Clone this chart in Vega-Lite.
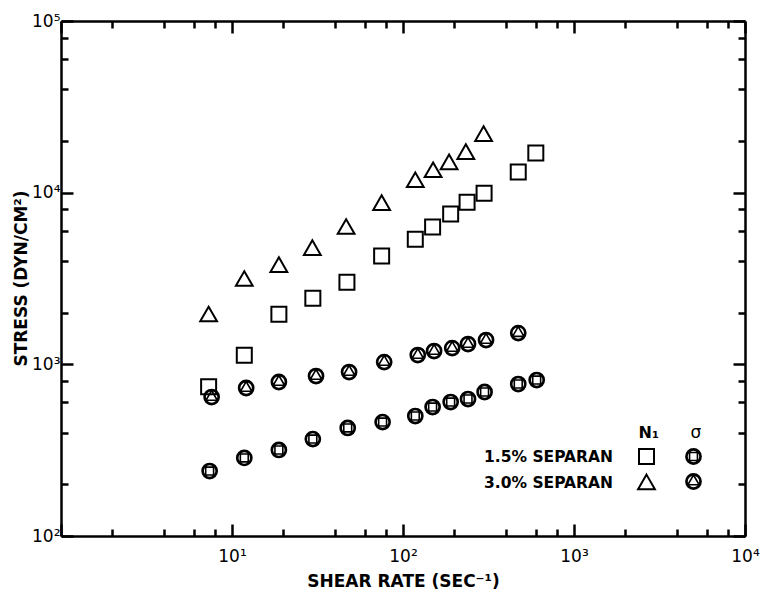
{
  "$schema": "https://vega.github.io/schema/vega-lite/v6.json",
  "width": 684,
  "height": 515,
  "autosize": {"type": "none"},
  "padding": {"left": 61, "top": 21, "right": 20, "bottom": 61},
  "background": "white",
  "config": {"view": {"stroke": null}, "font": "DejaVu Sans"},
  "data": {
    "values": [
      {"rate": 7.3, "stress": 741, "solution": "1.5% SEPARAN", "quantity": "N1"},
      {"rate": 11.8, "stress": 1130, "solution": "1.5% SEPARAN", "quantity": "N1"},
      {"rate": 18.8, "stress": 1960, "solution": "1.5% SEPARAN", "quantity": "N1"},
      {"rate": 29.7, "stress": 2430, "solution": "1.5% SEPARAN", "quantity": "N1"},
      {"rate": 47, "stress": 3010, "solution": "1.5% SEPARAN", "quantity": "N1"},
      {"rate": 75, "stress": 4270, "solution": "1.5% SEPARAN", "quantity": "N1"},
      {"rate": 118, "stress": 5360, "solution": "1.5% SEPARAN", "quantity": "N1"},
      {"rate": 149, "stress": 6300, "solution": "1.5% SEPARAN", "quantity": "N1"},
      {"rate": 190, "stress": 7500, "solution": "1.5% SEPARAN", "quantity": "N1"},
      {"rate": 237, "stress": 8800, "solution": "1.5% SEPARAN", "quantity": "N1"},
      {"rate": 298, "stress": 9930, "solution": "1.5% SEPARAN", "quantity": "N1"},
      {"rate": 472, "stress": 13200, "solution": "1.5% SEPARAN", "quantity": "N1"},
      {"rate": 598, "stress": 17000, "solution": "1.5% SEPARAN", "quantity": "N1"},

      {"rate": 7.3, "stress": 1950, "solution": "3.0% SEPARAN", "quantity": "N1"},
      {"rate": 11.8, "stress": 3140, "solution": "3.0% SEPARAN", "quantity": "N1"},
      {"rate": 18.8, "stress": 3780, "solution": "3.0% SEPARAN", "quantity": "N1"},
      {"rate": 29.5, "stress": 4750, "solution": "3.0% SEPARAN", "quantity": "N1"},
      {"rate": 46.5, "stress": 6300, "solution": "3.0% SEPARAN", "quantity": "N1"},
      {"rate": 75, "stress": 8690, "solution": "3.0% SEPARAN", "quantity": "N1"},
      {"rate": 118, "stress": 11800, "solution": "3.0% SEPARAN", "quantity": "N1"},
      {"rate": 150, "stress": 13500, "solution": "3.0% SEPARAN", "quantity": "N1"},
      {"rate": 186, "stress": 15000, "solution": "3.0% SEPARAN", "quantity": "N1"},
      {"rate": 233, "stress": 17200, "solution": "3.0% SEPARAN", "quantity": "N1"},
      {"rate": 296, "stress": 21900, "solution": "3.0% SEPARAN", "quantity": "N1"},

      {"rate": 7.4, "stress": 239, "solution": "1.5% SEPARAN", "quantity": "sigma"},
      {"rate": 11.8, "stress": 285, "solution": "1.5% SEPARAN", "quantity": "sigma"},
      {"rate": 18.8, "stress": 317, "solution": "1.5% SEPARAN", "quantity": "sigma"},
      {"rate": 29.7, "stress": 367, "solution": "1.5% SEPARAN", "quantity": "sigma"},
      {"rate": 47.5, "stress": 426, "solution": "1.5% SEPARAN", "quantity": "sigma"},
      {"rate": 76, "stress": 461, "solution": "1.5% SEPARAN", "quantity": "sigma"},
      {"rate": 118, "stress": 500, "solution": "1.5% SEPARAN", "quantity": "sigma"},
      {"rate": 149, "stress": 564, "solution": "1.5% SEPARAN", "quantity": "sigma"},
      {"rate": 190, "stress": 603, "solution": "1.5% SEPARAN", "quantity": "sigma"},
      {"rate": 240, "stress": 628, "solution": "1.5% SEPARAN", "quantity": "sigma"},
      {"rate": 300, "stress": 690, "solution": "1.5% SEPARAN", "quantity": "sigma"},
      {"rate": 472, "stress": 768, "solution": "1.5% SEPARAN", "quantity": "sigma"},
      {"rate": 605, "stress": 810, "solution": "1.5% SEPARAN", "quantity": "sigma"},

      {"rate": 7.6, "stress": 645, "solution": "3.0% SEPARAN", "quantity": "sigma"},
      {"rate": 12.1, "stress": 728, "solution": "3.0% SEPARAN", "quantity": "sigma"},
      {"rate": 18.8, "stress": 789, "solution": "3.0% SEPARAN", "quantity": "sigma"},
      {"rate": 31, "stress": 855, "solution": "3.0% SEPARAN", "quantity": "sigma"},
      {"rate": 48.4, "stress": 902, "solution": "3.0% SEPARAN", "quantity": "sigma"},
      {"rate": 77.6, "stress": 1031, "solution": "3.0% SEPARAN", "quantity": "sigma"},
      {"rate": 122, "stress": 1133, "solution": "3.0% SEPARAN", "quantity": "sigma"},
      {"rate": 152, "stress": 1195, "solution": "3.0% SEPARAN", "quantity": "sigma"},
      {"rate": 194, "stress": 1244, "solution": "3.0% SEPARAN", "quantity": "sigma"},
      {"rate": 240, "stress": 1313, "solution": "3.0% SEPARAN", "quantity": "sigma"},
      {"rate": 306, "stress": 1385, "solution": "3.0% SEPARAN", "quantity": "sigma"},
      {"rate": 472, "stress": 1521, "solution": "3.0% SEPARAN", "quantity": "sigma"}
    ]
  },
  "layer": [
    {
      "transform": [{"filter": "datum.quantity === 'N1'"}],
      "mark": {"type": "point", "filled": false, "stroke": "black", "strokeWidth": 2, "size": 225, "opacity": 1},
      "encoding": {
        "x": {
          "field": "rate", "type": "quantitative",
          "scale": {"type": "log", "domain": [1, 10000], "nice": false},
          "axis": {
            "orient": "bottom",
            "values": [1, 2, 4, 6, 8, 10, 20, 40, 60, 80, 100, 200, 400, 600, 800, 1000, 2000, 4000, 6000, 8000, 10000],
            "labelExpr": "datum.value == 10 ? '10¹' : datum.value == 100 ? '10²' : datum.value == 1000 ? '10³' : datum.value == 10000 ? '10⁴' : ''",
            "tickSize": {"condition": {"test": "indexof([1,10,100,1000,10000], datum.value) >= 0", "value": -12}, "value": -7},
            "tickWidth": 2.5, "tickColor": "black",
            "domainColor": "black", "domainWidth": 2.5, "grid": false,
            "labelFont": "DejaVu Sans", "labelFontSize": 17, "labelColor": "black",
            "labelPadding": 24, "labelFlush": false, "labelOverlap": false,
            "title": "SHEAR RATE (SEC⁻¹)", "titleFont": "DejaVu Sans", "titleFontSize": 17,
            "titleFontWeight": "bold", "titleColor": "black",
            "titleX": 342, "titleY": 45, "titleBaseline": "middle", "titleAlign": "center"
          }
        },
        "y": {
          "field": "stress", "type": "quantitative",
          "scale": {"type": "log", "domain": [100, 100000], "nice": false},
          "axis": {
            "orient": "left",
            "values": [100, 200, 400, 600, 800, 1000, 2000, 4000, 6000, 8000, 10000, 20000, 40000, 60000, 80000, 100000],
            "labelExpr": "datum.value == 100 ? '10²' : datum.value == 1000 ? '10³' : datum.value == 10000 ? '10⁴' : datum.value == 100000 ? '10⁵' : ''",
            "tickSize": {"condition": {"test": "indexof([100,1000,10000,100000], datum.value) >= 0", "value": -12}, "value": -7},
            "tickWidth": 2.5, "tickColor": "black",
            "domainColor": "black", "domainWidth": 2.5, "grid": false,
            "labelFont": "DejaVu Sans", "labelFontSize": 17, "labelColor": "black",
            "labelPadding": 13, "labelFlush": false, "labelOverlap": false,
            "title": "STRESS (DYN/CM²)", "titleFont": "DejaVu Sans", "titleFontSize": 17,
            "titleFontWeight": "bold", "titleColor": "black",
            "titleX": -40, "titleY": 257, "titleAngle": -90, "titleBaseline": "middle", "titleAlign": "center"
          }
        },
        "shape": {
          "field": "solution", "type": "nominal",
          "scale": {
            "domain": ["1.5% SEPARAN", "3.0% SEPARAN"],
            "range": ["M-1,-1H1V1H-1Z", "M0,-1.05L1.12,0.9L-1.12,0.9Z"]
          },
          "legend": {
            "orient": "none", "legendX": 577, "legendY": 404,
            "title": "N₁", "titleFont": "DejaVu Sans", "titleFontSize": 16, "titleFontWeight": "bold",
            "titleColor": "black", "titleAnchor": "end", "titlePadding": 7,
            "labelFont": "DejaVu Sans", "labelFontSize": 15.5, "labelFontWeight": "bold", "labelColor": "black",
            "labelAlign": "right", "labelOffset": -42, "labelLimit": 300,
            "symbolStrokeColor": "black", "symbolStrokeWidth": 2, "symbolFillColor": "transparent",
            "symbolSize": 225, "rowPadding": 2, "padding": 0
          }
        }
      }
    },
    {
      "transform": [{"filter": "datum.quantity === 'sigma'"}],
      "mark": {"type": "point", "filled": false, "stroke": "black", "strokeWidth": 1.6, "size": 230, "opacity": 1},
      "encoding": {
        "x": {
          "field": "rate", "type": "quantitative",
          "scale": {"type": "log", "domain": [1, 10000], "nice": false},
          "axis": {
            "orient": "top",
            "values": [1, 2, 4, 6, 8, 10, 20, 40, 60, 80, 100, 200, 400, 600, 800, 1000, 2000, 4000, 6000, 8000, 10000],
            "labels": false,
            "tickSize": {"condition": {"test": "indexof([1,10,100,1000,10000], datum.value) >= 0", "value": -12}, "value": -7},
            "tickWidth": 2.5, "tickColor": "black",
            "domainColor": "black", "domainWidth": 2.5, "grid": false,
            "title": null
          }
        },
        "y": {
          "field": "stress", "type": "quantitative",
          "scale": {"type": "log", "domain": [100, 100000], "nice": false},
          "axis": {
            "orient": "right",
            "values": [100, 200, 400, 600, 800, 1000, 2000, 4000, 6000, 8000, 10000, 20000, 40000, 60000, 80000, 100000],
            "labels": false,
            "tickSize": {"condition": {"test": "indexof([100,1000,10000,100000], datum.value) >= 0", "value": -12}, "value": -7},
            "tickWidth": 2.5, "tickColor": "black",
            "domainColor": "black", "domainWidth": 2.5, "grid": false,
            "title": null
          }
        },
        "shape": {
          "field": "solution", "type": "nominal",
          "scale": {
            "domain": ["1.5% SEPARAN", "3.0% SEPARAN"],
            "range": [
              "M1,0A1,1,0,1,1,-1,0A1,1,0,1,1,1,0ZM0.86,0A0.86,0.86,0,1,1,-0.86,0A0.86,0.86,0,1,1,0.86,0ZM-0.52,-0.52H0.52V0.52H-0.52Z",
              "M1,0A1,1,0,1,1,-1,0A1,1,0,1,1,1,0ZM0.86,0A0.86,0.86,0,1,1,-0.86,0A0.86,0.86,0,1,1,0.86,0ZM0,-0.86L0.745,0.43L-0.745,0.43Z"
            ]
          },
          "legend": {
            "orient": "none", "legendX": 624, "legendY": 404,
            "title": "σ", "titleFont": "DejaVu Sans", "titleFontSize": 17, "titleFontWeight": "normal",
            "titleColor": "black", "titleAnchor": "middle", "titlePadding": 6,
            "labelExpr": "''", "labelFontSize": 1,
            "symbolStrokeColor": "black", "symbolStrokeWidth": 1.6, "symbolFillColor": "transparent",
            "symbolSize": 230, "rowPadding": 2, "padding": 0
          }
        }
      }
    }
  ],
  "resolve": {
    "scale": {"shape": "independent"},
    "legend": {"shape": "independent"},
    "axis": {"x": "independent", "y": "independent"}
  }
}
